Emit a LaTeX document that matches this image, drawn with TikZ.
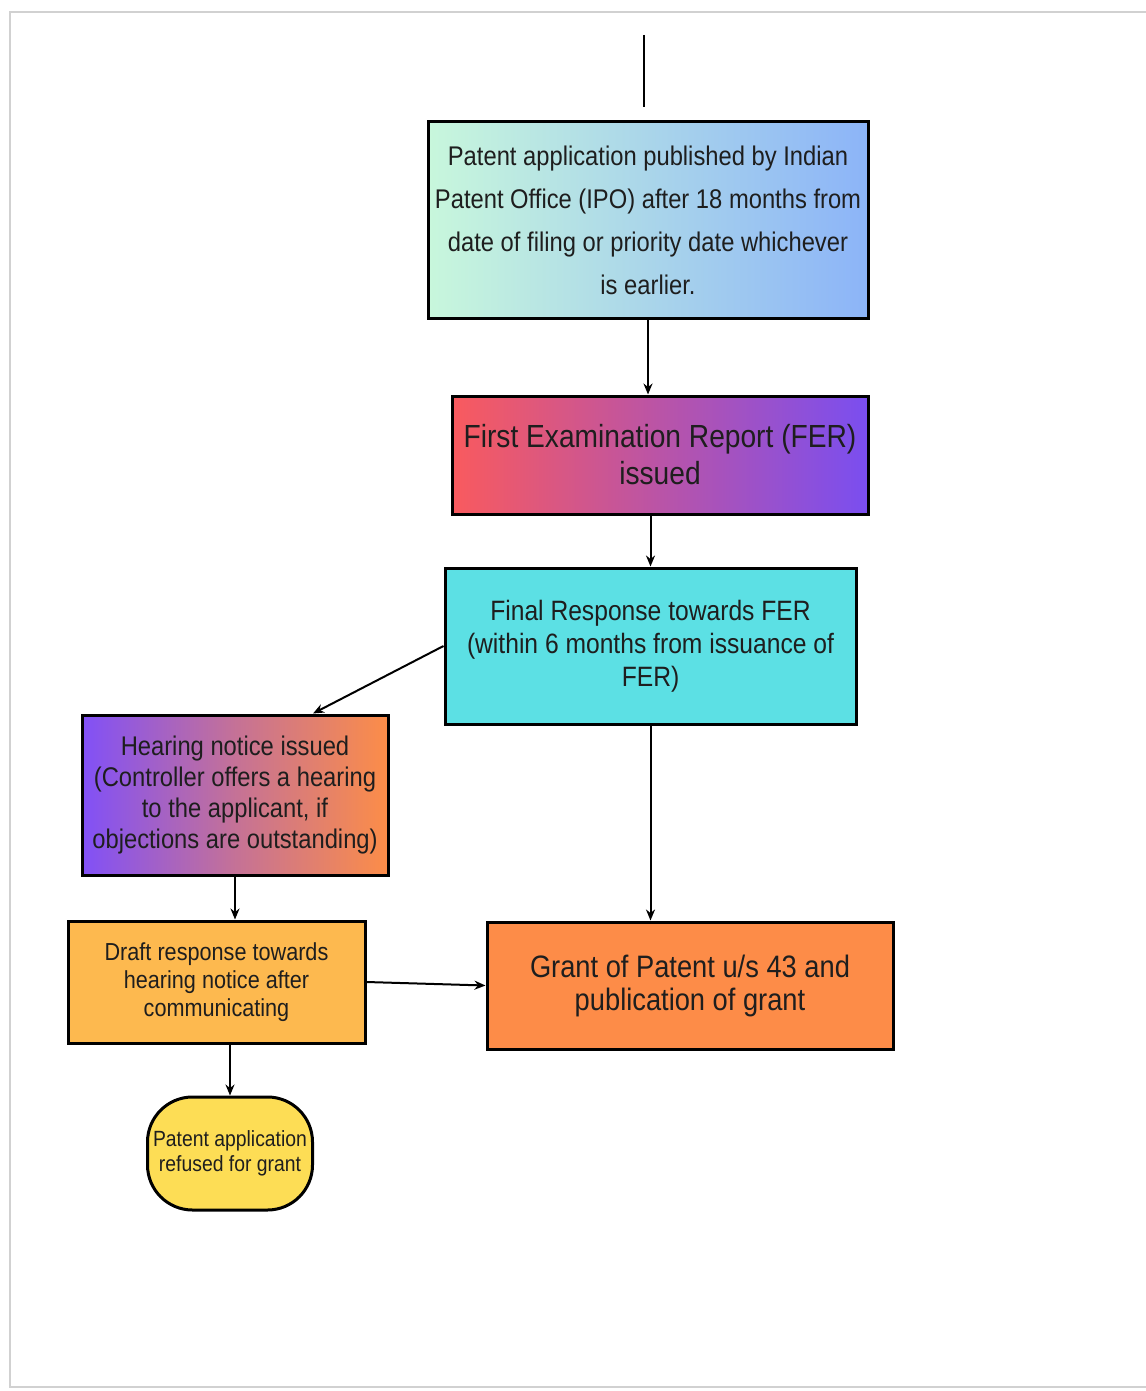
\documentclass[tikz,border=0pt]{standalone}
\usepackage{fontspec}
\setmainfont{Liberation Sans}[FakeStretch=0.88]
\usetikzlibrary{arrows.meta,calc}
\definecolor{txt}{HTML}{1E1E1E}
\definecolor{mintc}{HTML}{C8F7DC}
\definecolor{bluec}{HTML}{8CB4F8}
\definecolor{redc}{HTML}{F95A5E}
\definecolor{purpc}{HTML}{7A4EF0}
\definecolor{purp2}{HTML}{8150F7}
\definecolor{orng}{HTML}{FC8D48}
\definecolor{cyanc}{HTML}{5CE0E4}
\definecolor{draftc}{HTML}{FDB94F}
\definecolor{grantc}{HTML}{FD8C48}
\definecolor{yelc}{HTML}{FDDD55}
\begin{document}
\begin{tikzpicture}[x=1pt,y=-1pt,
  box/.style={draw=black,line width=3pt,inner sep=0pt,align=center,text=txt},
  conn/.style={draw=black,line width=2pt,-{Stealth[length=11pt,width=9pt]}}]
\useasboundingbox (0,0) rectangle (1145,1391);
\fill[white] (0,0) rectangle (1145,1391);
\draw[black!18,line width=2pt] (10,12) rectangle (1160,1387);

\node[box,minimum width=440pt,minimum height=196pt,left color=mintc,right color=bluec,
  font=\fontsize{27}{43}\selectfont] (pub) at (648,220)
  {Patent application published by Indian\\Patent Office (IPO) after 18 months from\\date of filing or priority date whichever\\is earlier.};
\node[box,minimum width=416pt,minimum height=118pt,left color=redc,right color=purpc,
  middle color=redc!50!purpc,font=\fontsize{32}{37}\selectfont] (fer) at (660,455)
  {First Examination Report (FER)\\issued};
\node[box,minimum width=411pt,minimum height=156pt,fill=cyanc,
  font=\fontsize{28}{33}\selectfont] (resp) at (650.5,646)
  {Final Response towards FER\\(within 6 months from issuance of\\FER)};
\node[box,minimum width=306pt,minimum height=160pt,left color=purp2,right color=orng,
  middle color=purp2!45!orng,font=\fontsize{27}{31}\selectfont] (hear) at (235,795)
  {Hearing notice issued\\(Controller offers a hearing\\to the applicant, if\\objections are outstanding)};
\node[box,minimum width=297pt,minimum height=122pt,fill=draftc,
  font=\fontsize{24.6}{28}\selectfont] (draft) at (216.5,982)
  {Draft response towards\\hearing notice after\\communicating};
\node[box,minimum width=406pt,minimum height=127pt,fill=grantc,
  font=\fontsize{31}{33}\selectfont] (grant) at (690,985.5)
  {Grant of Patent u/s 43 and\\publication of grant};
\node[box,minimum width=165pt,minimum height=113pt,fill=yelc,rounded corners=45pt,
  font=\fontsize{22}{25}\selectfont] (refused) at (230,1153.5)
  {Patent application\\refused for grant};

\coordinate (topA) at (644,35);
\coordinate (topB) at (644,107);
\draw[black,line width=2pt] (topA) -- (topB);

\draw[conn] (pub.south) -- (pub.south |- fer.north);
\draw[conn] (fer.south -| resp.north) -- (resp.north);
\draw[conn] (resp.west) -- ([xshift=78pt]hear.north);
\draw[conn] (resp.south) -- (resp.south |- grant.north);
\draw[conn] (hear.south) -- (hear.south |- draft.north);
\draw[conn] (draft.east) -- (grant.west);
\draw[conn] (draft.south -| refused.north) -- (refused.north);
\end{tikzpicture}
\end{document}
